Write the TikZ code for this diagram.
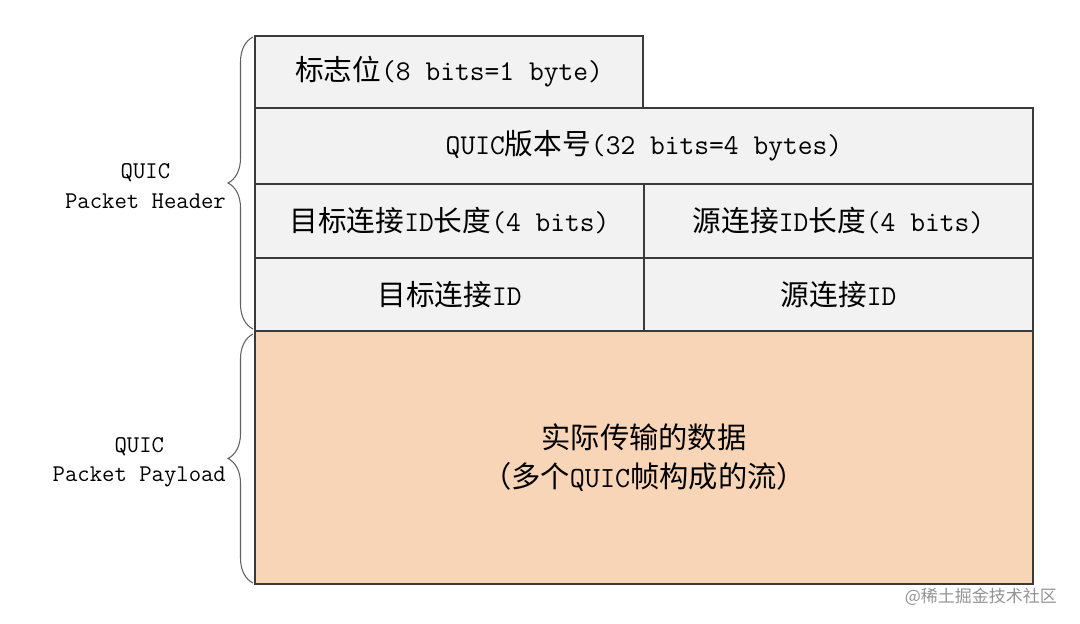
\documentclass[tikz,border=0pt]{standalone}
\usepackage{fontspec}
\newfontfamily\cjk{Noto Sans CJK SC}
\newcommand\zh[1]{{\cjk #1}}
\usetikzlibrary{decorations.pathreplacing}
\definecolor{cellgray}{HTML}{F2F2F2}
\definecolor{payloadfill}{HTML}{F9D5B7}
\definecolor{edgegray}{HTML}{3A3A3A}
\begin{document}
\begin{tikzpicture}[x=0.03cm,y=-0.03cm,
        cell/.style={draw=edgegray,fill=cellgray,line width=1.3pt,inner sep=0pt,outer sep=0pt,
            font=\ttfamily\fontsize{24.5}{29}\selectfont},
        brc/.style={draw=gray!75!black,line width=0.9pt,decorate,decoration={brace,amplitude=0.75cm,aspect=0.5}},
        lbl/.style={align=center,font=\ttfamily\fontsize{20.5}{25}\selectfont}]
            \useasboundingbox (0,0) rectangle (1080,624);
            \node[cell,minimum width=388*0.03cm,minimum height=72*0.03cm] (flags) at (449,72) {\zh{标志位}(8 bits=1 byte)};
            \node[cell,minimum width=778*0.03cm,minimum height=76*0.03cm] (version) at (644,146) {QUIC\zh{版本号}(32 bits=4 bytes)};
            \node[cell,minimum width=389*0.03cm,minimum height=74*0.03cm] (dcidlen) at (449.5,221) {\zh{目标连接}ID\zh{长度}(4 bits)};
            \node[cell,minimum width=389*0.03cm,minimum height=74*0.03cm] (scidlen) at (838.5,221) {\zh{源连接}ID\zh{长度}(4 bits)};
            \node[cell,minimum width=389*0.03cm,minimum height=73*0.03cm] (dcid) at (449.5,294.5) {\zh{目标连接}ID};
            \node[cell,minimum width=389*0.03cm,minimum height=73*0.03cm] (scid) at (838.5,294.5) {\zh{源连接}ID};
            \node[cell,fill=payloadfill,minimum width=778*0.03cm,minimum height=253*0.03cm,align=center,
                font=\ttfamily\fontsize{25}{33}\selectfont] (payload) at (644,457.5) {\zh{实际传输的数据}\\\zh{（多个}QUIC\zh{帧构成的流）}};
            \coordinate (hb-bot) at (253,329);
            \coordinate (hb-top) at (253,37);
            \coordinate (pb-bot) at (253,583);
            \coordinate (pb-top) at (253,334);
            \draw[brc] (hb-bot) -- (hb-top);
            \draw[brc] (pb-bot) -- (pb-top);
            \node[lbl,anchor=east] (hlabel) at (230,186) {QUIC\\Packet Header};
            \node[lbl,anchor=east] (plabel) at (230,462) {QUIC\\Packet Payload};
            \node[anchor=east,text=gray!85,font=\fontsize{14.5}{17}\selectfont] (mark) at (1061,597) {\cjk @稀土掘金技术社区};
        \end{tikzpicture}
\end{document}
